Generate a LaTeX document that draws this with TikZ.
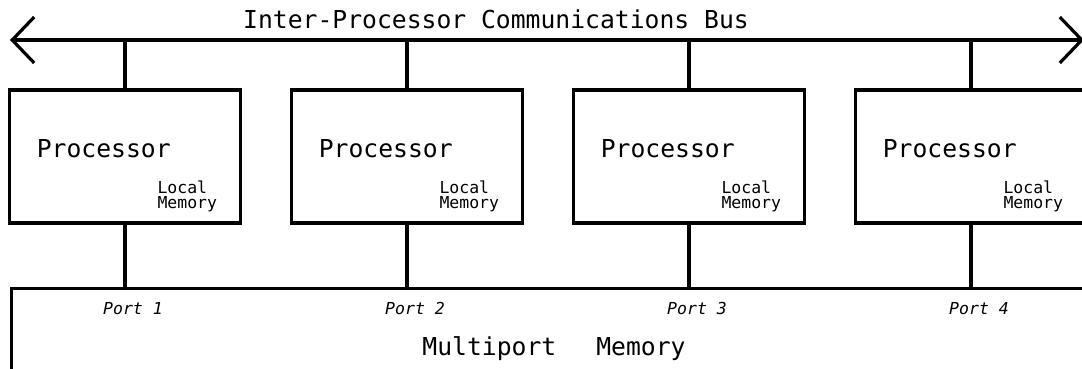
\documentclass[tikz,border=0pt]{standalone}
\usepackage{fontspec}
\setmonofont{DejaVu Sans Mono}
\usepackage{tikz}
\usetikzlibrary{arrows.meta}
\tikzset{b/.style={font=\ttfamily\fontsize{24.7}{26}\selectfont}}
\tikzset{s/.style={font=\ttfamily\fontsize{16.5}{15}\selectfont}}
\tikzset{box/.style={draw,inner sep=0pt,minimum width=231pt,minimum height=133pt}}
\tikzset{barb/.style={{Straight Barb[length=22pt,width=46pt]}-{Straight Barb[length=22pt,width=46pt]}}}

\begin{document}
\begin{tikzpicture}[x=1pt,y=-1pt,line width=3.2pt]
        \useasboundingbox (0,0) rectangle (1082,368);
        \clip (0,0) rectangle (1082,368);
        \coordinate (busL) at (10,40);
        \coordinate (busR) at (1084,40);
        \draw [barb] (busL) -- (busR);
        \node [b,anchor=base] (busname) at (496,28) {Inter-Processor Communications Bus};
        \node [box,minimum width=1100pt,minimum height=120pt,anchor=north west] (mem) at (10,287) {};
        \node [b,anchor=base] (memname) at (554,355) {Multiport\hspace{40pt}Memory};
        \foreach \i in {1,...,4} {
          \node [box] (proc\i) at ({125+282*(\i-1)},156.5) {};
          \node [b,anchor=base west] (pname\i) at ([xshift=24pt,yshift=-69pt]proc\i.north west) {Processor};
          \node [s,anchor=base west,align=left,inner sep=0pt] (lmem\i) at ([xshift=148pt,yshift=-120pt]proc\i.north west) {Local\\Memory};
          \draw (proc\i.north) -- (proc\i.north |- busL);
          \coordinate (port\i) at (proc\i.south |- mem.north);
          \draw (proc\i.south) -- (port\i);
          \node [s,anchor=base,font=\ttfamily\itshape\fontsize{16.5}{15}\selectfont] (pl\i) at ([xshift=8pt,yshift=-27pt]port\i) {Port \i};
        }
      \end{tikzpicture}
\end{document}
